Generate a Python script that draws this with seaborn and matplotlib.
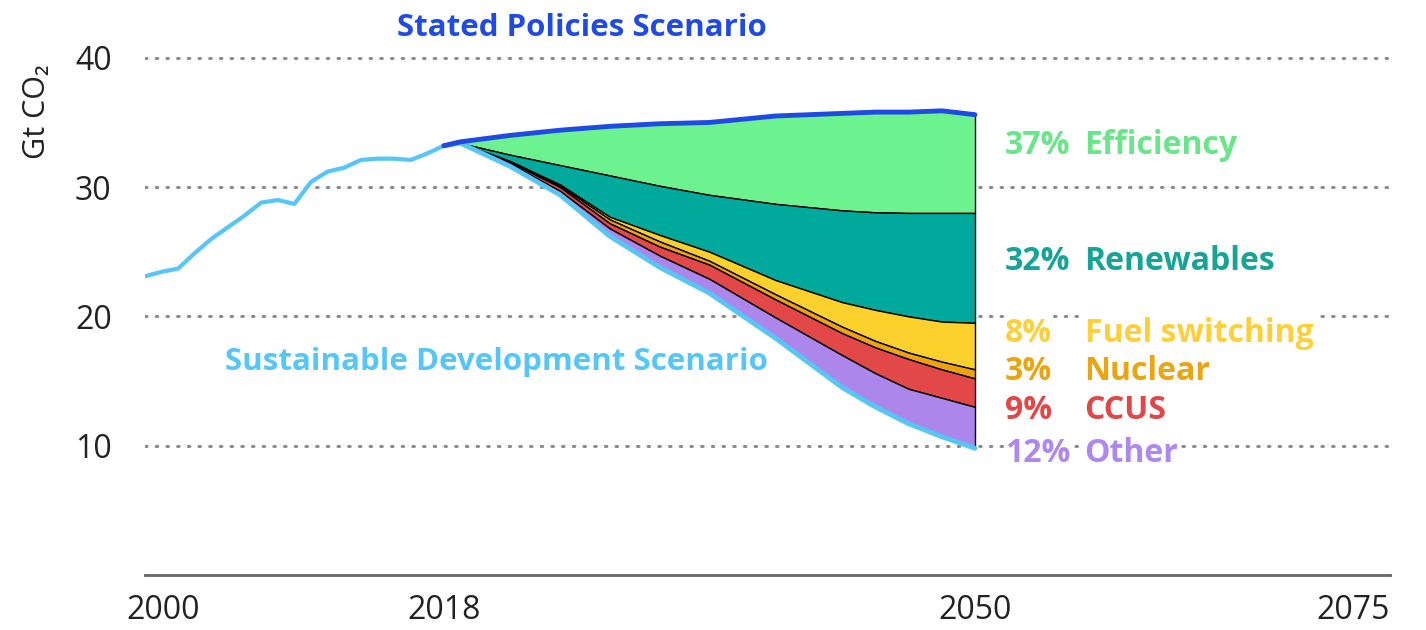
import matplotlib
matplotlib.use('Agg')
import matplotlib.pyplot as plt
import matplotlib.transforms as mtransforms
import seaborn as sns

# Historical emissions, Gt CO2
hist_years = list(range(2000, 2019))
hist_co2 = [23.1, 23.45, 23.7, 24.9, 26.0, 26.9, 27.8, 28.8, 29.0, 28.7,
            30.4, 31.2, 31.5, 32.1, 32.2, 32.2, 32.1, 32.6, 33.2]

# Projection years and the boundaries between the wedges
proj_years = [2018, 2019, 2022, 2025, 2028, 2031, 2034, 2038, 2042, 2044, 2046, 2048, 2050]
stated_policies = [33.2, 33.5, 34.0, 34.4, 34.7, 34.9, 35.0, 35.5, 35.7, 35.8, 35.8, 35.9, 35.6]
renewables_top = [33.2, 33.4, 32.5, 31.7, 30.9, 30.1, 29.4, 28.7, 28.2, 28.05, 28.0, 28.0, 28.0]
fuel_top = [33.2, 33.4, 32.0, 30.2, 27.7, 26.3, 25.0, 22.8, 21.1, 20.5, 20.0, 19.6, 19.5]
nuclear_top = [33.2, 33.4, 32.0, 30.1, 27.5, 25.8, 24.3, 21.7, 19.2, 18.1, 17.2, 16.5, 15.9]
ccus_top = [33.2, 33.4, 31.9, 30.0, 27.2, 25.4, 24.0, 21.3, 18.7, 17.6, 16.7, 15.9, 15.2]
other_top = [33.2, 33.4, 31.8, 29.7, 26.8, 24.7, 22.9, 19.9, 17.0, 15.6, 14.4, 13.7, 13.0]
sustainable = [33.2, 33.4, 31.6, 29.4, 26.2, 23.8, 21.8, 18.3, 14.5, 13.0, 11.7, 10.7, 9.8]

wedge_names = ['Efficiency', 'Renewables', 'Fuel switching', 'Nuclear', 'CCUS', 'Other']
wedge_pcts = ['37%', '32%', '8%', '3%', '9%', '12%']
wedge_colors = ['#6cf28f', '#00a99c', '#fdd12c', '#eea20c', '#e34848', '#ad86ec']
label_colors = ['#6be58a', '#17a497', '#fdd03a', '#e9a512', '#e04848', '#ae88ee']
label_y = [33.2, 24.25, 18.7, 15.7, 12.7, 9.4]

sky = '#55c6f5'
navy = '#1f4be3'

sns.set_theme(style='white')
plt.rcParams['font.family'] = ['Open Sans', 'DejaVu Sans']

fig = plt.figure(figsize=(14.26, 6.3), dpi=100)
ax = fig.add_axes([145 / 1426, 55 / 630, 1245 / 1426, 575 / 630])

# wedges, from the top (efficiency) down to the SDS line
bounds = [stated_policies, renewables_top, fuel_top, nuclear_top, ccus_top, other_top, sustainable]
for i, col in enumerate(wedge_colors):
    ax.fill_between(proj_years, bounds[i + 1], bounds[i], facecolor=col,
                    edgecolor='black', linewidth=1, zorder=2)

sns.lineplot(x=hist_years, y=hist_co2, color=sky, linewidth=3, ax=ax, zorder=3)
sns.lineplot(x=proj_years, y=sustainable, color=sky, linewidth=3.5, ax=ax, zorder=3)
sns.lineplot(x=proj_years, y=stated_policies, color=navy, linewidth=3.5, ax=ax, zorder=3)

ax.set_xlim(2000, 2075)
ax.set_ylim(0, 44.47)
ax.set_xticks([2000, 2018, 2050, 2075])
ax.set_yticks([10, 20, 30, 40])
ax.tick_params(axis='x', length=0, pad=14, labelsize=23, labelcolor='#222222')
ax.tick_params(axis='y', length=0, pad=24, labelsize=23, labelcolor='#222222')
xlabels = ax.get_xticklabels()
xlabels[-1].set_horizontalalignment('right')
xlabels[0].set_transform(xlabels[0].get_transform() +
                         mtransforms.ScaledTranslation(0.18, 0, fig.dpi_scale_trans))
ax.set_xlabel('')
ax.set_ylabel('')

for s in ['left', 'right', 'top']:
    ax.spines[s].set_visible(False)
ax.spines['bottom'].set_color('#666666')
ax.spines['bottom'].set_linewidth(2)

ax.yaxis.grid(True, color='#8c8c8c', linestyle=(0, (0.5, 3)), linewidth=2.2,
              dash_capstyle='round')
ax.set_axisbelow(True)

ax.text(-0.087, 0.805, 'Gt CO₂', rotation=90, ha='center', va='center',
        transform=ax.transAxes, fontsize=22, color='#222222')

ax.text(2026.3, 42.3, 'Stated Policies Scenario', ha='center', va='center',
        fontsize=22.5, fontweight='bold', color=navy)
ax.text(2021.2, 16.5, 'Sustainable Development Scenario', ha='center', va='center',
        fontsize=22.5, fontweight='bold', color=sky)

for name, pct, col, yv in zip(wedge_names, wedge_pcts, label_colors, label_y):
    box = dict(facecolor='white', edgecolor='none', pad=1)
    ax.text(2051.8, yv, pct, ha='left', va='center', fontsize=23,
            fontweight='bold', color=col, bbox=box, zorder=4)
    ax.text(2056.6, yv, name, ha='left', va='center', fontsize=23,
            fontweight='bold', color=col, bbox=box, zorder=4)

fig.savefig('out.png', dpi=100)
